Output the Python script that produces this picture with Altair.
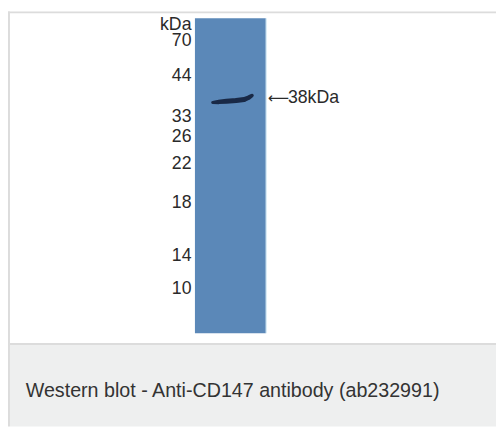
import altair as alt
import pandas as pd

W, H = 496, 422

marker_labels = ["kDa", "70", "44", "33", "26", "22", "18", "14", "10"]
marker_pos = [14.0, 29.8, 66, 107, 127.5, 155.5, 194.7, 248.7, 282]

# Detected band (38 kDa): points along the band and their thickness
band_x = [208, 214, 222, 232, 240, 245, 248]
band_y = [92.5, 92, 91.3, 90.5, 89.5, 87.5, 85.5]
band_w = [3.0, 4.5, 5.0, 5.0, 5.0, 4.6, 3.6]

band_arrow = "⟵"
band_label = "38kDa"
caption = "Western blot - Anti-CD147 antibody (ab232991)"

# Frame / panels (x0, x1, y0, y1, colour)
panels = pd.DataFrame([
    dict(x=2, x2=W, y=339, y2=H, c="#eeefef"),
    dict(x=0, x2=W, y=0, y2=2, c="#dcdcdc"),
    dict(x=0, x2=2, y=0, y2=H, c="#dcdcdc"),
    dict(x=2, x2=W, y=337, y2=339, c="#dcdcdc"),
    dict(x=190, x2=262, y=7, y2=327, c="#5b88b8"),
    dict(x=262, x2=263, y=7, y2=327, c="#cfe6f3"),
])

xs = alt.Scale(domain=[0, W], range=[0, W])
ys = alt.Scale(domain=[0, H], range=[0, H])

rects = alt.Chart(panels).mark_rect().encode(
    x=alt.X("x:Q", scale=xs, axis=None),
    x2="x2:Q",
    y=alt.Y("y:Q", scale=ys, axis=None),
    y2="y2:Q",
    color=alt.Color("c:N", scale=None),
)

band_df = pd.DataFrame({"x": band_x, "y": band_y, "w": band_w, "o": range(len(band_x))})
band = alt.Chart(band_df).mark_trail(color="#16243f", opacity=0.95).encode(
    x=alt.X("x:Q", scale=xs, axis=None),
    y=alt.Y("y:Q", scale=ys, axis=None),
    order="o:Q",
    size=alt.Size("w:Q", scale=None, legend=None),
)

mk_df = pd.DataFrame({"t": marker_labels, "y": marker_pos})
markers = alt.Chart(mk_df).mark_text(
    align="right", baseline="middle", font="Liberation Sans", fontSize=18, color="#2a2a2a"
).encode(
    x=alt.value(186.5),
    y=alt.Y("y:Q", scale=ys, axis=None),
    text="t:N",
)

arr_df = pd.DataFrame({"t": [band_arrow], "y": [88]})
arrow = alt.Chart(arr_df).mark_text(
    align="left", baseline="middle", font="DejaVu Sans", fontSize=15, color="#2a2a2a"
).encode(
    x=alt.value(264),
    y=alt.Y("y:Q", scale=ys, axis=None),
    text="t:N",
)

lab_df = pd.DataFrame({"t": [band_label], "y": [88]})
label = alt.Chart(lab_df).mark_text(
    align="left", baseline="middle", font="Liberation Sans", fontSize=18, color="#2a2a2a"
).encode(
    x=alt.value(284.5),
    y=alt.Y("y:Q", scale=ys, axis=None),
    text="t:N",
)

cap_df = pd.DataFrame({"t": [caption], "y": [386]})
cap = alt.Chart(cap_df).mark_text(
    align="left", baseline="middle", font="Liberation Sans", fontSize=20, color="#333333"
).encode(
    x=alt.value(18),
    y=alt.Y("y:Q", scale=ys, axis=None),
    text="t:N",
)

chart = alt.layer(rects, band, markers, arrow, label, cap).properties(
    width=W, height=H, padding=0, autosize=alt.AutoSizeParams(type="none"),
    background="white",
).configure_view(stroke=None)

chart.save("out.html", embed_options={"renderer": "svg", "actions": False})
